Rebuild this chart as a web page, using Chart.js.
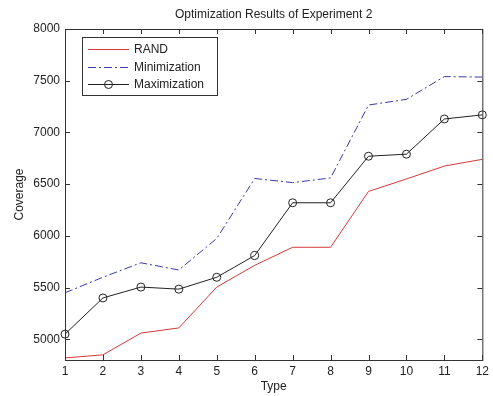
<!DOCTYPE html>
<html>
<head>
<meta charset="utf-8">
<title>Optimization Results of Experiment 2</title>
<script src="https://cdn.jsdelivr.net/npm/chart.js@4/dist/chart.umd.min.js"></script>
<style>
  html, body { margin: 0; padding: 0; background: #fff; }
  canvas { display: block; }
</style>
</head>
<body>
<canvas id="coverageChart" width="493" height="396"></canvas>
<script>
// Values
const types = ['1', '2', '3', '4', '5', '6', '7', '8', '9', '10', '11', '12'];
const randValues = [4820, 4850, 5060, 5110, 5505, 5715, 5890, 5890, 6430, 6550, 6675, 6740];
const minValues = [5450, 5600, 5740, 5670, 5975, 6555, 6515, 6560, 7265, 7320, 7540, 7535];
const maxValues = [5050, 5400, 5505, 5485, 5600, 5810, 6320, 6320, 6770, 6790, 7130, 7170];
const yTicks = [5000, 5500, 6000, 6500, 7000, 7500, 8000];
const seriesNames = ['RAND', 'Minimization', 'Maximization'];

const FONT = '"Liberation Sans", Arial, Helvetica, sans-serif';
const AXIS_COLOR = '#333';
const TEXT_COLOR = '#222';

// Draws the MATLAB style box, inward ticks, title and legend
const matlabFrame = {
    id: 'matlabFrame',
    afterDraw(chart) {
        const ctx = chart.ctx;
        const area = chart.chartArea;
        const xScale = chart.scales.x;
        const yScale = chart.scales.y;
        const tick = 5;

        ctx.save();
        ctx.strokeStyle = AXIS_COLOR;
        ctx.lineWidth = 1;
        ctx.strokeRect(area.left + 0.5, area.top + 0.5, area.right - area.left, area.bottom - area.top);

        ctx.beginPath();
        xScale.ticks.forEach((t, i) => {
            const px = Math.round(xScale.getPixelForTick(i)) + 0.5;
            ctx.moveTo(px, area.bottom);
            ctx.lineTo(px, area.bottom - tick);
            ctx.moveTo(px, area.top);
            ctx.lineTo(px, area.top + tick);
        });
        yScale.ticks.forEach(t => {
            const py = Math.round(yScale.getPixelForValue(t.value)) + 0.5;
            ctx.moveTo(area.left, py);
            ctx.lineTo(area.left + tick, py);
            ctx.moveTo(area.right, py);
            ctx.lineTo(area.right - tick, py);
        });
        ctx.stroke();

        // title over the plot area
        ctx.fillStyle = TEXT_COLOR;
        ctx.font = '12px ' + FONT;
        ctx.textAlign = 'center';
        ctx.textBaseline = 'middle';
        ctx.fillText('Optimization Results of Experiment 2', (area.left + area.right) / 2, 15);

        // legend box inside the axes
        const lx = area.left + 17;
        const ly = area.top + 8;
        const lw = 135;
        const lh = 58;
        ctx.fillStyle = '#fff';
        ctx.fillRect(lx, ly, lw, lh);
        ctx.strokeStyle = AXIS_COLOR;
        ctx.strokeRect(lx + 0.5, ly + 0.5, lw, lh);

        chart.data.datasets.forEach((ds, i) => {
            const rowY = Math.round(ly + 12 + i * 17.6) + 0.5;
            ctx.strokeStyle = ds.borderColor;
            ctx.lineWidth = 1;
            ctx.setLineDash(ds.borderDash || []);
            ctx.beginPath();
            ctx.moveTo(lx + 6, rowY);
            ctx.lineTo(lx + 47, rowY);
            ctx.stroke();
            ctx.setLineDash([]);
            if (ds.pointRadius > 0) {
                ctx.beginPath();
                ctx.arc(lx + 26.5, rowY, ds.pointRadius, 0, Math.PI * 2);
                ctx.stroke();
            }
            ctx.fillStyle = TEXT_COLOR;
            ctx.textAlign = 'left';
            ctx.fillText(ds.label, lx + 52, rowY);
        });
        ctx.restore();
    }
};

const ctx = document.getElementById('coverageChart').getContext('2d');
new Chart(ctx, {
    type: 'line',
    data: {
        labels: types,
        datasets: [
            {
                label: seriesNames[0],
                data: randValues,
                borderColor: '#d23a3a',
                borderWidth: 1,
                pointRadius: 0,
                tension: 0
            },
            {
                label: seriesNames[1],
                data: minValues,
                borderColor: '#3a3aa6',
                borderWidth: 1,
                borderDash: [8, 3, 2, 3],
                pointRadius: 0,
                tension: 0
            },
            {
                label: seriesNames[2],
                data: maxValues,
                borderColor: '#222',
                borderWidth: 1,
                pointRadius: 4,
                pointStyle: 'circle',
                pointBackgroundColor: 'rgba(0,0,0,0)',
                pointBorderColor: '#222',
                pointBorderWidth: 1,
                tension: 0
            }
        ]
    },
    options: {
        responsive: false,
        animation: false,
        layout: { padding: { top: 29, right: 8, left: 0, bottom: 0 } },
        plugins: {
            legend: { display: false },
            title: { display: false },
            tooltip: { enabled: false }
        },
        scales: {
            x: {
                type: 'category',
                offset: false,
                grid: { display: false, drawTicks: false },
                border: { display: false },
                ticks: {
                    color: TEXT_COLOR,
                    font: { family: FONT, size: 12 },
                    padding: 4,
                    maxRotation: 0,
                    autoSkip: false
                },
                title: {
                    display: true,
                    text: 'Type',
                    color: TEXT_COLOR,
                    font: { family: FONT, size: 12 },
                    padding: { top: 0, bottom: 2 }
                },
                afterFit(scale) { scale.height = 36; }
            },
            y: {
                min: 4800,
                max: 8000,
                grid: { display: false, drawTicks: false },
                border: { display: false },
                ticks: {
                    color: TEXT_COLOR,
                    font: { family: FONT, size: 12 },
                    padding: 5,
                    callback: value => String(value)
                },
                title: {
                    display: true,
                    text: 'Coverage',
                    color: TEXT_COLOR,
                    font: { family: FONT, size: 12 },
                    padding: { top: 12, bottom: 0 }
                },
                afterBuildTicks(scale) {
                    scale.ticks = yTicks.map(v => ({ value: v }));
                },
                afterFit(scale) { scale.width = 65; }
            }
        }
    },
    plugins: [matlabFrame]
});
</script>
</body>
</html>
